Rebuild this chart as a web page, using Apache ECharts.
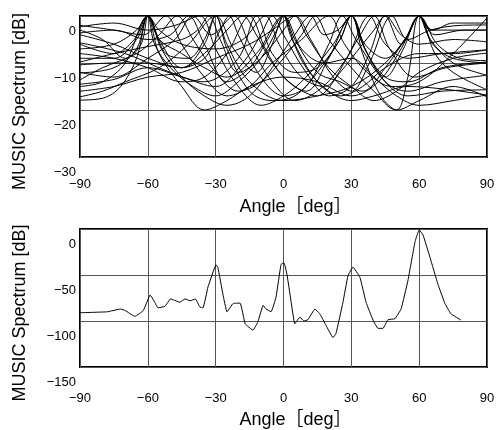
<!DOCTYPE html>
<html>
<head>
<meta charset="utf-8">
<script src="https://cdn.jsdelivr.net/npm/echarts@6/dist/echarts.min.js"></script>
<style>
html,body{margin:0;padding:0;background:#fff;}
#c{width:498px;height:430px;}
</style>
</head>
<body>
<div id="c"></div>
<script>
// ---- axis definitions ----
var angleTicks = [-90, -60, -30, 0, 30, 60, 90];
var topRange = [-30, 0];      // dB, top panel
var bottomRange = [-150, 0];  // dB, bottom panel
var xName = 'Angle\uFF3Bdeg\uFF3D';
var yName = 'MUSIC Spectrum [dB]';

// ---- top panel: individual MUSIC spectra [angle, dB] ----
var spec01 = [[-90,-3],[-80,-5],[-70,-9],[-63,-6],[-60,0],[-57,-6],[-50,-11],[-40,-15],[-30,-17],[-20,-14],[-10,-9],[-3,-3],[0,0],[3,-4],[10,-11],[20,-16],[30,-18],[40,-17],[55,-15],[70,-15.5],[90,-16.8]];
var spec02 = [[-90,-10.4],[-75,-10],[-60,-10],[-45,-11],[-35,-6],[-30,0],[-25,-7],[-15,-16],[-5,-18],[5,-17],[15,-12],[25,-5],[30,0],[35,-6],[45,-14],[55,-17],[70,-16],[90,-15.7]];
var spec03 = [[-90,-17.9],[-80,-17.5],[-72,-15],[-65,-9],[-60,0],[-55,-8],[-45,-15],[-35,-20],[-25,-18],[-15,-15],[0,-13],[15,-14],[30,-17],[42,-14],[52,-7],[60,0],[65,-5],[75,-10],[90,-12.6]];
var spec04 = [[-90,-13.6],[-80,-11],[-65,-8],[-55,-4],[-47,0],[-40,-5],[-30,-12],[-20,-16],[-10,-14],[0,-9],[8,-4],[14,0],[20,-5],[30,-11],[40,-16],[50,-20],[60,-18],[75,-15],[90,-17.2]];
var spec05 = [[-90,-4],[-75,-6],[-60,-9],[-45,-11],[-35,-8],[-25,-3],[-18,0],[-12,-4],[-5,-10],[5,-15],[15,-17],[25,-12],[35,-6],[40,-3],[45,0],[52,-4],[60,-6],[75,-5],[90,-5.5]];
var spec06 = [[-90,-5.7],[-70,-8],[-50,-12],[-35,-14],[-20,-9],[-12,0],[-5,-8],[5,-12],[15,-11],[25,-5],[30,0],[36,-6],[45,-9],[54,-5],[60,0],[66,-3],[75,-1.5],[90,-1.5]];
var spec07 = [[-90,-9.8],[-75,-8],[-60,-6.5],[-45,-5],[-38,-3],[-33,0],[-28,-5],[-20,-12],[-10,-9],[0,-3],[5,0],[10,-4],[20,-11],[30,-15],[40,-18],[50,-16],[60,-12],[75,-9],[90,-7.9]];
var spec08 = [[-90,-12.1],[-75,-11],[-65,-7],[-60,0],[-55,-5],[-45,-11],[-35,-9],[-28,-3],[-24,0],[-20,-4],[-10,-13],[0,-17],[10,-15],[20,-6],[26,0],[32,-5],[45,-14],[55,-16],[70,-14],[90,-12.6]];
var spec09 = [[-90,-3.6],[-75,-3],[-60,-5],[-50,-4],[-42,0],[-35,-6],[-25,-14],[-15,-11],[-7,-5],[0,0],[5,-5],[15,-12],[25,-14],[35,-16],[45,-11],[55,-4],[60,0],[65,-3],[75,-3],[90,-3]];
var spec10 = [[-90,-2.3],[-75,-1.5],[-60,-3],[-48,-2],[-37,0],[-30,-7],[-20,-15],[-10,-19],[0,-17],[10,-13],[22,-6],[30,0],[35,-8],[43,-17],[50,-20],[55,-13],[60,0],[66,-6],[75,-9],[90,-10]];
var spec11 = [[-90,-17.2],[-80,-16],[-70,-14],[-55,-11],[-42,-6],[-30,0],[-22,-7],[-12,-12],[-5,-6],[0,0],[5,-6],[15,-14],[25,-17],[35,-15],[45,-11],[60,-8],[75,-8],[90,-7.2]];
var spec12 = [[-90,-14.5],[-75,-13.5],[-60,-11],[-45,-13],[-30,-15],[-18,-10],[-10,-4],[-5,0],[0,-4],[10,-12],[20,-17],[30,-15],[38,-8],[45,0],[52,-6],[60,0],[67,-8],[75,-12],[90,-15.7]];
var spec13 = [[-90,-9],[-75,-9],[-65,-5],[-60,0],[-54,-7],[-45,-13],[-35,-17],[-25,-19],[-15,-17],[-5,-11],[5,-4],[12,0],[18,-4],[24,-3],[30,0],[36,-7],[45,-13],[55,-14],[70,-11],[90,-9.8]];
var spec14 = [[-90,-8],[-75,-9],[-60,-11],[-45,-14],[-35,-13],[-25,-8],[-15,0],[-8,-7],[0,-13],[10,-16],[20,-9],[30,0],[37,-8],[45,-13],[53,-7],[60,0],[67,-4],[80,-3],[90,-3]];
var spec15 = [[-90,-15],[-80,-14],[-70,-10],[-60,0],[-52,-8],[-42,-9],[-35,-5],[-30,0],[-25,-6],[-15,-14],[0,-18],[15,-17],[30,-15],[45,-10],[55,-4],[60,0],[68,-6],[78,-9],[90,-9.5]];
var spec16 = [[-90,-6],[-75,-8],[-66,-5],[-60,0],[-55,-5],[-45,-8],[-35,-11],[-25,-13],[-12,-8],[0,0],[8,-7],[18,-10],[30,-9],[40,-13],[50,-17],[60,-19],[75,-18],[90,-16.8]];
var spec17 = [[-90,-2],[-75,-3],[-62,-4],[-52,0],[-45,-6],[-35,-13],[-25,-17],[-15,-15],[-5,-10],[8,-5],[20,0],[27,-6],[37,-12],[48,-15],[60,-14],[75,-8],[90,-0.4]];
var spec18 = [[-90,-12],[-75,-13],[-60,-9],[-48,-5],[-40,0],[-32,-4],[-22,0],[-15,-6],[-5,-14],[5,-18],[15,-16],[25,-11],[34,-4],[40,0],[47,-7],[58,-13],[72,-11],[90,-10]];
var spec19 = [[-90,-16],[-75,-15],[-60,-13],[-45,-12],[-30,-9],[-15,-6],[-5,-3],[5,0],[12,-5],[22,-13],[30,-16],[38,-10],[48,0],[55,-5],[65,-3],[78,-2],[90,-1.9]];
var spec20 = [[-90,-7],[-75,-6],[-65,-3],[-60,0],[-55,-3],[-45,-6],[-30,-7],[-18,-5],[-8,0],[-2,-6],[8,-13],[18,-15],[28,-9],[38,0],[45,-6],[55,-9],[70,-8],[90,-7.2]];
var topSpectra = [spec01,spec02,spec03,spec04,spec05,spec06,spec07,spec08,spec09,spec10,spec11,spec12,spec13,spec14,spec15,spec16,spec17,spec18,spec19,spec20];

// ---- bottom panel: averaged MUSIC spectrum [angle, dB] ----
var avgSpectrum = [[-90,-91],[-78,-90],[-72,-87],[-70,-88.6],[-65.7,-95],[-62,-88.6],[-59,-71.8],[-57.3,-78],[-55.5,-85.7],[-52.4,-84],[-50,-76],[-48.7,-77],[-45.8,-79.6],[-43.6,-76],[-41.3,-78],[-39,-76],[-37,-84.7],[-35.6,-85.7],[-33.4,-63],[-29.8,-39],[-29,-42],[-26.8,-70.7],[-25,-90],[-22.3,-81],[-19.2,-80.6],[-17,-103],[-15.7,-106],[-13.5,-110],[-11.3,-100.7],[-9,-83],[-7.7,-87],[-5.5,-90],[-3.3,-74],[-1.1,-38.6],[0.2,-36.8],[1.5,-49],[3.3,-78],[5,-103],[7.3,-95.7],[9,-100],[10.8,-98.6],[13.9,-87],[16,-92],[18.8,-104.7],[21.9,-118],[23.2,-113.6],[26.3,-79.6],[28.5,-51],[30.7,-41.4],[33.8,-52.6],[36.5,-79.6],[39.6,-99],[41.8,-108],[44,-108],[46.2,-98.6],[49.3,-97.5],[52,-87],[55,-56.4],[58.2,-13.6],[60,-1],[61.7,-6.4],[64.8,-31],[68.3,-60],[71.4,-81],[74,-92],[78.5,-99]];

var FONT = "'Liberation Sans', Arial, 'Noto Sans CJK JP', sans-serif";
function fmtMinus(v){ return String(v).replace('-', '\u2212'); }

function makeX(gridIndex, labelMargin, nameGap){
  return {
    type: 'value', gridIndex: gridIndex,
    min: angleTicks[0], max: angleTicks[angleTicks.length-1], interval: 30,
    axisLine: {show: false}, axisTick: {show: false},
    splitLine: {show: true, lineStyle: {color: '#555', width: 1}},
    axisLabel: {color: '#000', fontSize: 13, fontFamily: FONT, margin: labelMargin, formatter: fmtMinus},
    name: xName, nameLocation: 'middle', nameGap: nameGap,
    nameTextStyle: {color: '#000', fontSize: 18, fontFamily: FONT, padding: [0,0,0,24]}
  };
}
function makeY(gridIndex, range){
  return {
    type: 'value', gridIndex: gridIndex,
    min: range[0], max: range[1], interval: (range[1]-range[0])/3,
    axisLine: {show: false}, axisTick: {show: false},
    splitLine: {show: true, lineStyle: {color: '#555', width: 1}},
    axisLabel: {color: '#000', fontSize: 13, fontFamily: FONT, margin: 4, verticalAlign: 'top', lineHeight: 30, formatter: fmtMinus},
    name: yName, nameLocation: 'middle', nameRotate: 90, nameGap: 51,
    nameTextStyle: {color: '#000', fontSize: 18, fontFamily: FONT, padding: [0,30,0,0]}
  };
}

var series = topSpectra.map(function(d){
  return {type: 'line', xAxisIndex: 0, yAxisIndex: 0, data: d, smooth: 0.35,
          showSymbol: false, lineStyle: {color: '#000', width: 1}, silent: true};
});
series.push({type: 'line', xAxisIndex: 1, yAxisIndex: 1, data: avgSpectrum, smooth: 0.1,
             showSymbol: false, lineStyle: {color: '#000', width: 1}, silent: true});

var chart = echarts.init(document.getElementById('c'), null, {renderer: 'canvas'});
chart.setOption({
  animation: false,
  backgroundColor: '#fff',
  grid: [
    {left: 80, top: 16, width: 407, height: 141, show: true, borderColor: '#000', borderWidth: 2, backgroundColor: 'transparent'},
    {left: 80, top: 229, width: 407, height: 140, show: true, borderColor: '#000', borderWidth: 2, backgroundColor: 'transparent'}
  ],
  xAxis: [makeX(0, 21, 41), makeX(1, 25, 44)],
  yAxis: [makeY(0, topRange), makeY(1, bottomRange)],
  series: series
});
</script>
</body>
</html>
